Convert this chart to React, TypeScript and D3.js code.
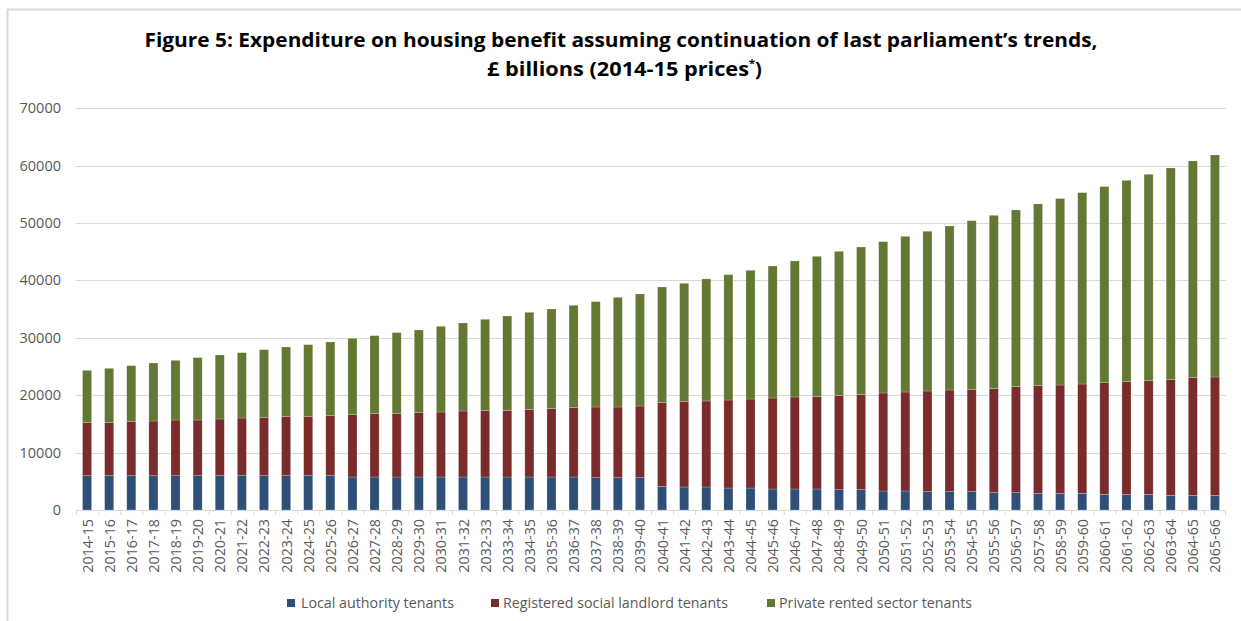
import React from "react";
import * as d3 from "d3";

const categories: string[] = [
  "2014-15","2015-16","2016-17","2017-18","2018-19","2019-20","2020-21","2021-22","2022-23","2023-24",
  "2024-25","2025-26","2026-27","2027-28","2028-29","2029-30","2030-31","2031-32","2032-33","2033-34",
  "2034-35","2035-36","2036-37","2037-38","2038-39","2039-40","2040-41","2041-42","2042-43","2043-44",
  "2044-45","2045-46","2046-47","2047-48","2048-49","2049-50","2050-51","2051-52","2052-53","2053-54",
  "2054-55","2055-56","2056-57","2057-58","2058-59","2059-60","2060-61","2061-62","2062-63","2063-64",
  "2064-65","2065-66",
];

const localAuthority: number[] = [
  5980,5980,5980,5980,5980,5980,5980,5980,5980,5980,5980,5980,
  5750,5750,5750,5750,5750,5750,5750,5750,5750,5750,5750,
  5630,5630,5630,
  4120,4010,4010,3830,3830,3660,3660,3660,3540,3540,3310,3310,
  3200,3200,3200,3020,3020,2900,2900,2900,2730,2730,2730,2560,2560,2560,
];

const registeredSocial: number[] = [
  9240,9240,9410,9530,9700,9700,9880,10050,10170,10340,10340,10520,
  10860,11040,11040,11210,11330,11500,11620,11620,11790,11910,12080,
  12320,12320,12490,
  14640,14870,14990,15340,15510,15860,16030,16150,16440,16560,17080,17250,
  17540,17710,17830,18130,18470,18770,18880,19060,19520,19690,19810,20150,20500,20620,
];

const privateRented: number[] = [
  9120,9470,9760,10110,10400,10870,11150,11390,11790,12090,12490,12780,
  13310,13590,14120,14410,14930,15340,15860,16440,16910,17370,17840,
  18360,19110,19520,
  20100,20620,21260,21840,22430,23000,23710,24400,25100,25730,26370,27130,
  27830,28580,29390,30200,30790,31660,32480,33340,34100,35030,35960,36890,37760,38690,
];

const seriesNames: string[] = [
  "Local authority tenants",
  "Registered social landlord tenants",
  "Private rented sector tenants",
];
const seriesColors: string[] = ["#2E4F78", "#7A2C2C", "#637832"];

const yTicks: number[] = [0, 10000, 20000, 30000, 40000, 50000, 60000, 70000];

const W = 1241;
const H = 621;
const plot = { left: 76, right: 1226, top: 108.3, bottom: 510 };
const FONT = "'Open Sans', 'Noto Sans', sans-serif";

export default function App() {
  const rows = categories.map((c, i) => ({
    cat: c,
    s0: localAuthority[i],
    s1: registeredSocial[i],
    s2: privateRented[i],
  }));
  const stack = d3.stack<any>().keys(["s0", "s1", "s2"]);
  const stacked = stack(rows);

  const x = d3
    .scaleBand<string>()
    .domain(categories)
    .range([plot.left, plot.right])
    .paddingInner(0.59)
    .paddingOuter(0.295);
  const y = d3.scaleLinear().domain([0, 70000]).range([plot.bottom, plot.top]);
  const step = x.step();

  const legendItems = [
    { sx: 287, tx: 301, tw: 153 },
    { sx: 491, tx: 503, tw: 225 },
    { sx: 767, tx: 779, tw: 193 },
  ];

  return (
    <svg
      width={W}
      height={H}
      style={{ position: "absolute", left: 0, top: 0, background: "#fff" }}
    >
      <rect x={0} y={0} width={W} height={H} fill="#fff" />
      {/* chart border */}
      <line x1={7} y1={9.5} x2={W} y2={9.5} stroke="#d9d9d9" strokeWidth={2} />
      <line x1={7.5} y1={9} x2={7.5} y2={H} stroke="#d9d9d9" strokeWidth={2} />

      {/* title */}
      <text
        x={621}
        y={47}
        textAnchor="middle"
        fontFamily={FONT}
        fontWeight={700}
        fontSize={20}
        fill="#000"
        textLength={953}
        lengthAdjust="spacingAndGlyphs"
      >
        Figure 5: Expenditure on housing benefit assuming continuation of last parliament’s trends,
      </text>
      <text
        x={487}
        y={76}
        fontFamily={FONT}
        fontWeight={700}
        fontSize={20}
        fill="#000"
      >
        <tspan textLength={262} lengthAdjust="spacingAndGlyphs">£ billions (2014-15 prices</tspan>
        <tspan fontSize={11} dy={-9}>*</tspan>
        <tspan dy={9}>)</tspan>
      </text>

      {/* gridlines */}
      {yTicks.map((t) => (
        <line
          key={"g" + t}
          x1={plot.left}
          x2={plot.right}
          y1={Math.round(y(t)) + 0.5}
          y2={Math.round(y(t)) + 0.5}
          stroke="#d9d9d9"
          strokeWidth={1}
        />
      ))}
      {/* y labels */}
      {yTicks.map((t) => (
        <text
          key={"yl" + t}
          x={61}
          y={y(t) + 5}
          textAnchor="end"
          fontFamily={FONT}
          fontSize={14.5}
          fill="#595959"
        >
          {t}
        </text>
      ))}

      {/* x ticks */}
      {categories.map((c, i) => (
        <line
          key={"xt" + c}
          x1={plot.left + i * step + 0.5}
          x2={plot.left + i * step + 0.5}
          y1={plot.bottom}
          y2={plot.bottom + 5}
          stroke="#d9d9d9"
        />
      ))}
      <line
        x1={plot.right - 0.5}
        x2={plot.right - 0.5}
        y1={plot.bottom}
        y2={plot.bottom + 5}
        stroke="#d9d9d9"
      />

      {/* bars */}
      {stacked.map((layer, si) => (
        <g key={"s" + si} fill={seriesColors[si]}>
          {layer.map((d: any, i: number) => (
            <rect
              key={i}
              x={x(categories[i])!}
              width={x.bandwidth()}
              y={y(d[1])}
              height={y(d[0]) - y(d[1])}
              stroke="#ffffff"
              strokeOpacity={0.35}
              strokeWidth={0.6}
            />
          ))}
        </g>
      ))}

      {/* x labels */}
      {categories.map((c) => {
        const cx = x(c)! + x.bandwidth() / 2;
        return (
          <text
            key={"xl" + c}
            transform={`translate(${cx + 5.5},${plot.bottom + 9}) rotate(-90)`}
            textAnchor="end"
            fontFamily={FONT}
            fontSize={14.3}
            fill="#595959"
          >
            {c}
          </text>
        );
      })}

      {/* legend */}
      {seriesNames.map((n, i) => (
        <g key={"lg" + i}>
          <rect x={legendItems[i].sx} y={599} width={8} height={8} fill={seriesColors[i]} />
          <text
            x={legendItems[i].tx}
            y={608}
            fontFamily={FONT}
            fontSize={14}
            fill="#595959"
            textLength={legendItems[i].tw}
            lengthAdjust="spacingAndGlyphs"
          >
            {n}
          </text>
        </g>
      ))}
    </svg>
  );
}
